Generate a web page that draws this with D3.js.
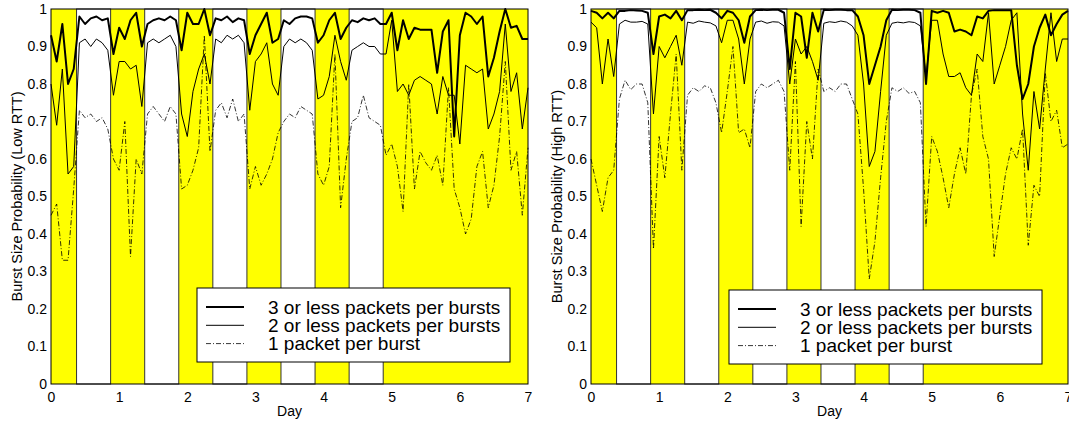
<!DOCTYPE html>
<html>
<head>
<meta charset="utf-8">
<script src="https://cdn.jsdelivr.net/npm/d3@7"></script>
<style>
body { margin: 0; background: #fff; }
svg text { font-family: "Liberation Sans", Arial, Helvetica, sans-serif; fill: #000; }
</style>
</head>
<body>
<div id="chart"></div>
<script>
// one sample every two hours over the week (day 0 .. 7)
var days = d3.range(85).map(function(i) { return i / 12; });

// white bands = night hours (the rest of the plot is yellow)
var nightStart = [0.375, 1.375, 2.375, 3.375, 4.375];
var nightLength = 0.5;

var xTicks = [0, 1, 2, 3, 4, 5, 6, 7];
var yTicks = [0, 0.1, 0.2, 0.3, 0.4, 0.5, 0.6, 0.7, 0.8, 0.9, 1];
var seriesNames = ["3 or less packets per bursts", "2 or less packets per bursts", "1 packet per burst"];

// Low RTT
var lowThree = [0.93, 0.86, 0.96, 0.80, 0.84,
  0.98, 0.96, 0.975, 0.98, 0.97, 0.975,
  0.88, 0.95, 0.92, 0.97, 0.99, 0.90,
  0.96, 0.97, 0.975, 0.97, 0.98, 0.97,
  0.89, 0.99, 0.96, 0.96, 1.0, 0.93,
  0.975, 0.97, 0.98, 0.965, 0.975, 0.97,
  0.88, 0.93, 0.96, 0.99, 0.91, 0.92,
  0.97, 0.96, 0.975, 0.98, 0.98, 0.975,
  0.91, 0.93, 0.97, 0.99, 0.92, 0.95,
  0.97, 0.965, 0.975, 0.97, 0.975, 0.96,
  0.96, 0.99, 0.89, 0.97, 0.92, 0.95, 0.945, 0.945, 0.945, 0.83, 0.94, 0.97, 0.66,
  0.93, 0.99, 0.98, 0.96, 0.98, 0.82, 0.87, 0.94, 1.0, 0.95, 0.955, 0.92, 0.92];
var lowTwo = [0.80, 0.69, 0.84, 0.56, 0.58,
  0.91, 0.92, 0.90, 0.92, 0.91, 0.89,
  0.77, 0.86, 0.86, 0.84, 0.85, 0.74,
  0.91, 0.92, 0.91, 0.92, 0.93, 0.90,
  0.72, 0.66, 0.78, 0.84, 0.88, 0.80,
  0.92, 0.91, 0.93, 0.92, 0.93, 0.91,
  0.73, 0.86, 0.88, 0.91, 0.80, 0.77,
  0.90, 0.92, 0.91, 0.92, 0.91, 0.89,
  0.76, 0.77, 0.82, 0.93, 0.86, 0.81,
  0.89, 0.90, 0.91, 0.90, 0.90, 0.88,
  0.88, 0.97, 0.78, 0.80, 0.77, 0.81, 0.82, 0.81, 0.80, 0.72, 0.82, 0.77, 0.77,
  0.64, 0.85, 0.84, 0.83, 0.84, 0.68, 0.72, 0.78, 0.96, 0.78, 0.83, 0.68, 0.79];
var lowOne = [0.45, 0.48, 0.33, 0.33, 0.52,
  0.73, 0.71, 0.72, 0.70, 0.71, 0.68,
  0.60, 0.57, 0.70, 0.34, 0.60, 0.56,
  0.72, 0.74, 0.72, 0.70, 0.74, 0.72,
  0.52, 0.53, 0.57, 0.63, 0.93, 0.62,
  0.73, 0.75, 0.71, 0.76, 0.70, 0.72,
  0.52, 0.58, 0.53, 0.56, 0.60, 0.67,
  0.70, 0.72, 0.71, 0.74, 0.73, 0.72,
  0.56, 0.53, 0.58, 0.88, 0.47, 0.60,
  0.70, 0.71, 0.77, 0.71, 0.70, 0.69,
  0.61, 0.64, 0.58, 0.46, 0.80, 0.52, 0.62, 0.59, 0.57, 0.61, 0.53, 0.79, 0.52,
  0.47, 0.40, 0.44, 0.58, 0.62, 0.47, 0.53, 0.66, 0.86, 0.57, 0.62, 0.45, 0.63];

// High RTT
var highThree = [0.995, 0.99, 0.975, 0.99, 0.975,
  0.995, 0.995, 0.997, 0.996, 0.995, 0.99,
  0.88, 0.98, 0.985, 0.975, 0.995, 0.97,
  0.997, 0.997, 0.998, 0.997, 0.998, 0.99,
  0.975, 0.995, 0.99, 0.97, 0.91, 0.98,
  0.997, 0.998, 0.997, 0.998, 0.998, 0.99,
  0.84, 0.99, 0.98, 0.87, 0.99, 0.94,
  0.998, 0.997, 0.998, 0.998, 0.997, 0.997,
  0.98, 0.93, 0.80, 0.85, 0.90, 0.97,
  0.998, 0.997, 0.998, 0.998, 0.997, 0.99,
  0.80, 0.995, 0.99, 0.995, 0.99, 0.94, 0.945, 0.94, 0.93, 0.98, 0.975, 0.995, 0.997,
  0.997, 0.997, 0.997, 0.85, 0.76, 0.80, 0.90, 0.95, 0.985, 0.93, 0.96, 0.985, 0.995];
var highTwo = [0.965, 0.95, 0.80, 0.92, 0.82,
  0.96, 0.97, 0.965, 0.965, 0.967, 0.96,
  0.72, 0.90, 0.87, 0.90, 0.93, 0.85,
  0.965, 0.962, 0.968, 0.965, 0.963, 0.955,
  0.91, 0.97, 0.97, 0.92, 0.80, 0.92,
  0.965, 0.968, 0.962, 0.966, 0.965, 0.955,
  0.80, 0.92, 0.88, 0.90, 0.86, 0.81,
  0.962, 0.966, 0.964, 0.968, 0.965, 0.955,
  0.93, 0.80, 0.58, 0.62, 0.78, 0.93,
  0.962, 0.965, 0.963, 0.966, 0.964, 0.955,
  0.82, 0.97, 0.97, 0.88, 0.82, 0.82, 0.83, 0.79, 0.77, 0.88, 0.86, 0.99, 0.80,
  0.85, 0.90, 0.97, 0.99, 0.72, 0.57, 0.78, 0.68, 0.84, 0.99, 0.86, 0.92, 0.92];
var highOne = [0.60, 0.53, 0.46, 0.55, 0.57,
  0.76, 0.81, 0.785, 0.80, 0.80, 0.75,
  0.36, 0.66, 0.55, 0.72, 0.88, 0.57,
  0.77, 0.79, 0.78, 0.795, 0.79, 0.75,
  0.67, 0.78, 0.90, 0.67, 0.68, 0.63,
  0.78, 0.80, 0.79, 0.80, 0.81, 0.78,
  0.57, 0.86, 0.42, 0.70, 0.60, 0.84,
  0.78, 0.79, 0.78, 0.80, 0.80, 0.76,
  0.72, 0.52, 0.28, 0.38, 0.55, 0.70,
  0.79, 0.78, 0.79, 0.775, 0.78, 0.75,
  0.42, 0.66, 0.62, 0.55, 0.47, 0.56, 0.63, 0.56, 0.77, 0.84, 0.66, 0.60, 0.34,
  0.45, 0.56, 0.63, 0.60, 0.68, 0.37, 0.53, 0.50, 0.83, 0.70, 0.73, 0.63, 0.64];

var lineStyles = [
  {width: 2, dash: null},
  {width: 1, dash: null},
  {width: 0.8, dash: "5,2,1,2"}
];

var panels = [
  {left: 51, label: "Burst Size Probability (Low RTT)", series: [lowThree, lowTwo, lowOne], legendX: 146, legendY: 279},
  {left: 591, label: "Burst Size Probability (High RTT)", series: [highThree, highTwo, highOne], legendX: 138, legendY: 281}
];

var plotTop = 9, plotW = 477, plotH = 375;

var svg = d3.select("#chart")
  .append("svg")
  .attr("width", 1069)
  .attr("height", 423);

panels.forEach(function(p) {
  var x = d3.scaleLinear().domain([0, 7]).range([0, plotW]);
  var y = d3.scaleLinear().domain([0, 1]).range([plotH, 0]);

  var g = svg.append("g")
    .attr("transform", "translate(" + p.left + "," + plotTop + ")");

  g.append("rect")
    .attr("width", plotW)
    .attr("height", plotH)
    .attr("fill", "#ffff00");

  g.selectAll(".night")
    .data(nightStart)
    .enter()
    .append("rect")
    .attr("x", function(d) { return x(d); })
    .attr("y", 0)
    .attr("width", function(d) { return x(d + nightLength) - x(d); })
    .attr("height", plotH)
    .attr("fill", "#fff")
    .attr("stroke", "#333")
    .attr("stroke-width", 1);

  var line = d3.line()
    .x(function(d, i) { return x(days[i]); })
    .y(function(d) { return y(d); });

  p.series.slice().reverse().forEach(function(s, k) {
    var st = lineStyles[2 - k];
    g.append("path")
      .attr("d", line(s))
      .attr("fill", "none")
      .attr("stroke", "#000")
      .attr("stroke-width", st.width)
      .attr("stroke-linejoin", "round")
      .attr("stroke-dasharray", st.dash);
  });

  // legend
  var lg = g.append("g")
    .attr("transform", "translate(" + p.legendX + "," + p.legendY + ")");
  lg.append("rect")
    .attr("width", 313)
    .attr("height", 74)
    .attr("fill", "#fff")
    .attr("stroke", "#000")
    .attr("stroke-width", 1);
  seriesNames.forEach(function(name, i) {
    var ly = 19 + i * 18.3;
    lg.append("line")
      .attr("x1", 9).attr("x2", 47)
      .attr("y1", ly).attr("y2", ly)
      .attr("stroke", "#000")
      .attr("stroke-width", lineStyles[i].width)
      .attr("stroke-dasharray", lineStyles[i].dash);
    lg.append("text")
      .attr("x", 71)
      .attr("y", ly)
      .attr("dy", "0.35em")
      .attr("font-size", "19px")
      .text(name);
  });

  // frame
  g.append("rect")
    .attr("width", plotW)
    .attr("height", plotH)
    .attr("fill", "none")
    .attr("stroke", "#000")
    .attr("stroke-width", 1);

  var xAxis = g.append("g")
    .attr("transform", "translate(0," + plotH + ")")
    .call(d3.axisBottom(x).tickValues(xTicks).tickSize(0).tickPadding(8).tickFormat(d3.format("d")));
  xAxis.select(".domain").remove();
  xAxis.selectAll("text").attr("font-size", "14px").attr("font-family", null);

  var yAxis = g.append("g")
    .call(d3.axisLeft(y).tickValues(yTicks).tickSize(0).tickPadding(4).tickFormat(function(d) { return String(d); }));
  yAxis.select(".domain").remove();
  yAxis.selectAll("text").attr("font-size", "14px").attr("font-family", null);

  g.append("text")
    .attr("x", plotW / 2)
    .attr("y", plotH + 32)
    .attr("text-anchor", "middle")
    .attr("font-size", "14px")
    .text("Day");

  g.append("text")
    .attr("transform", "translate(-34," + plotH / 2 + ") rotate(-90)")
    .attr("dy", "0.35em")
    .attr("text-anchor", "middle")
    .attr("font-size", "14.5px")
    .text(p.label);
});
</script>
</body>
</html>
